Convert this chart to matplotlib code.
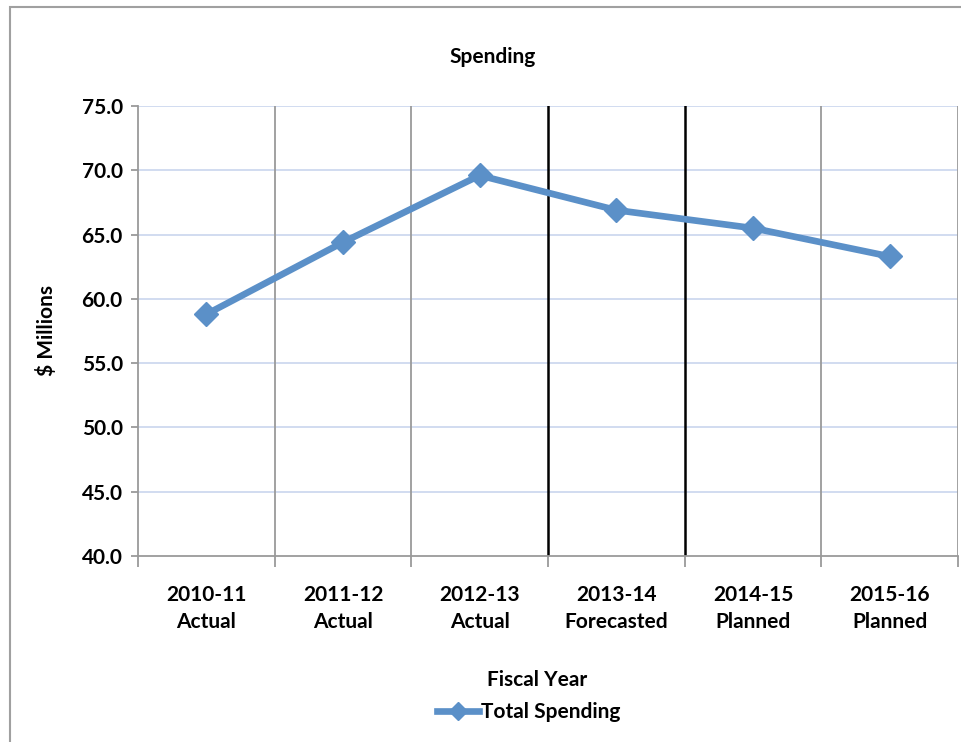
import matplotlib.pyplot as plt
from matplotlib.patches import Rectangle

years = ['2010-11', '2011-12', '2012-13', '2013-14', '2014-15', '2015-16']
kinds = ['Actual', 'Actual', 'Actual', 'Forecasted', 'Planned', 'Planned']
spending = [58.8, 64.4, 69.6, 66.9, 65.5, 63.3]
y_ticks = [40, 45, 50, 55, 60, 65, 70, 75]

plt.rcParams['font.family'] = ['Lato', 'DejaVu Sans']
plt.rcParams['font.weight'] = 'bold'

fig = plt.figure(figsize=(9.62, 7.42), dpi=100)
fig.patches.append(Rectangle((10 / 962, -0.1), 1.2, 1.1 - 7 / 742, transform=fig.transFigure,
                             fill=False, edgecolor='#a0a0a0', linewidth=1.5))
ax = fig.add_axes([138 / 962, 1 - 556 / 742, 820 / 962, 450 / 742])

x = list(range(len(years)))
ax.set_xlim(-0.5, len(years) - 0.5)
ax.set_ylim(40, 75)
ax.set_yticks(y_ticks)
ax.set_yticklabels(['{:.1f}'.format(v) for v in y_ticks])

for v in y_ticks[1:]:
    ax.axhline(v, color='#c9d6ee', linewidth=1.2, zorder=1)
for b in [0.5, 1.5, 4.5, 5.5]:
    ax.axvline(b, color='#9a9a9a', linewidth=1.3, zorder=1)
for b in [2.5, 3.5]:
    ax.axvline(b, color='black', linewidth=1.8, zorder=2)

# boundary ticks below the axis
ax.set_xticks([i - 0.5 for i in range(len(years) + 1)], minor=True)
ax.tick_params(axis='x', which='minor', length=8, color='#9a9a9a', width=1.3)
ax.set_xticks(x)
ax.set_xticklabels(['{}\n{}'.format(a, b) for a, b in zip(years, kinds)], fontsize=15,
                   linespacing=1.45)
ax.tick_params(axis='x', which='major', length=0, pad=21)
ax.tick_params(axis='y', length=5, color='#9a9a9a', width=1.3, labelsize=15, pad=6)

for s in ['top', 'right']:
    ax.spines[s].set_visible(False)
for s in ['left', 'bottom']:
    ax.spines[s].set_color('#9a9a9a')
    ax.spines[s].set_linewidth(1.3)

ax.plot(x, spending, color='#5b90c8', linewidth=4.8, marker='D', markersize=12,
        label='Total Spending', zorder=5, clip_on=False)

fig.text(493 / 962, 1 - 57 / 742, 'Spending', ha='center', va='center', fontsize=15)
fig.text(537 / 962, 1 - 680 / 742, 'Fiscal Year', ha='center', va='center', fontsize=15)
fig.text(46 / 962, 1 - 330 / 742, '$ Millions', ha='center', va='center', fontsize=15,
         rotation=90)

fig.legend(loc='center', bbox_to_anchor=(529 / 962, 1 - 712 / 742), frameon=False,
           fontsize=15, handlelength=2.0, handletextpad=0.1, borderaxespad=0,
           markerscale=0.75)

fig.savefig('out.png', dpi=100)
